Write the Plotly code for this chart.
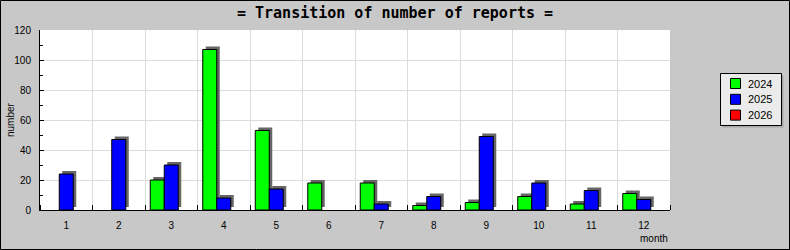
import plotly.graph_objects as go

months = [1, 2, 3, 4, 5, 6, 7, 8, 9, 10, 11, 12]
month_labels = ["1", "2", "3", "4", "5", "6", "7", "8", "9", "10", "11", "12"]
series_names = ["2024", "2025", "2026"]
v2024 = [0, 0, 20, 107, 53, 18, 18, 3, 5, 9, 4, 11]
v2025 = [24, 47, 30, 8, 14, 0, 4, 9, 49, 18, 13, 7]
v2026 = [0, 0, 0, 0, 0, 0, 0, 0, 0, 0, 0, 0]
series_values = [v2024, v2025, v2026]
series_colors = ["#00ff00", "#0000ff", "#ff0000"]

W, H = 790, 250
ML, MR, MT, MB = 40, 120, 30, 40
PW = W - ML - MR
PH = H - MT - MB
YMAX = 120
px_x = PW / 12.0          # pixels per category unit
px_y = PH / YMAX          # pixels per value unit
bar_w = 14 / px_x
shadow_dx = 3 / px_x
shadow_dy = 3 / px_y

FONT = "Liberation Sans"

def px2paper_x(p):
    return (p - ML) / PW

def px2paper_y(p):
    return (H - MB - p) / PH

fig = go.Figure()
for i, (name, vals, col) in enumerate(zip(series_names, series_values, series_colors)):
    yv = [v if v else None for v in vals]
    off = -1.5 * bar_w + i * bar_w
    fig.add_trace(go.Bar(
        x=months, y=yv, base=shadow_dy, offset=off + shadow_dx, width=bar_w,
        marker=dict(color="#666666", line=dict(width=0)),
        showlegend=False, hoverinfo="skip"))
    fig.add_trace(go.Bar(
        x=months, y=yv, name=name, offset=off, width=bar_w, showlegend=False,
        marker=dict(color=col, line=dict(color="black", width=1))))

shapes = []
annotations = []
# outer frame
shapes.append(dict(type="rect", xref="paper", yref="paper",
                   x0=px2paper_x(0.5), x1=px2paper_x(W - 0.5),
                   y0=px2paper_y(H - 0.5), y1=px2paper_y(0.5),
                   line=dict(color="black", width=1), layer="below"))
# legend box with shadow
LX0, LX1, LY0, LY1 = 720.5, 781.5, 73.5, 125.5
shapes.append(dict(type="rect", xref="paper", yref="paper",
                   x0=px2paper_x(LX0 + 2), x1=px2paper_x(LX1 + 2),
                   y0=px2paper_y(LY1 + 2), y1=px2paper_y(LY0 + 2),
                   line=dict(width=0), fillcolor="#a8a8a8"))
shapes.append(dict(type="rect", xref="paper", yref="paper",
                   x0=px2paper_x(LX0), x1=px2paper_x(LX1),
                   y0=px2paper_y(LY1), y1=px2paper_y(LY0),
                   line=dict(color="black", width=1), fillcolor="#ebebeb"))
for i, (name, col) in enumerate(zip(series_names, series_colors)):
    cy = 83.5 + i * 15.8
    shapes.append(dict(type="rect", xref="paper", yref="paper",
                       x0=px2paper_x(730.5), x1=px2paper_x(740.5),
                       y0=px2paper_y(cy + 5), y1=px2paper_y(cy - 5),
                       line=dict(color="black", width=1), fillcolor=col))
    annotations.append(dict(text=name, xref="paper", yref="paper",
                            x=px2paper_x(746), y=px2paper_y(cy),
                            xanchor="left", yanchor="middle", showarrow=False,
                            font=dict(family=FONT, size=11, color="black")))

annotations += [
    dict(text="number", textangle=-90, xref="paper", yref="paper",
         x=px2paper_x(10), y=0.5, xanchor="center", yanchor="middle",
         showarrow=False, font=dict(family=FONT, size=10, color="black")),
    dict(text="month", xref="paper", yref="paper",
         x=1.0, y=px2paper_y(238.5), xanchor="right", yanchor="middle",
         showarrow=False, font=dict(family=FONT, size=10, color="black")),
]

fig.update_layout(
    width=W, height=H,
    margin=dict(l=ML, r=MR, t=MT, b=MB, pad=0, autoexpand=False),
    paper_bgcolor="#c8c8c8", plot_bgcolor="white",
    barmode="overlay",
    title=dict(text="<b>= Transition of number of reports =</b>",
               x=0.5, xref="container", xanchor="center",
               y=1 - 12.5 / H, yref="container", yanchor="middle",
               font=dict(family="DejaVu Sans Mono", size=15, color="black")),
    font=dict(family=FONT, size=10, color="black"),
    showlegend=False,
    xaxis=dict(range=[0.5, 12.5], tickmode="array", tickvals=months, ticktext=month_labels,
               ticks="", showgrid=False, zeroline=False, automargin=False,
               showline=True, linecolor="black", linewidth=1, ticklabelstandoff=6,
               tickfont=dict(family=FONT, size=10, color="black"),
               minor=dict(tick0=0.5, dtick=1, ticks="inside", ticklen=5, tickcolor="black",
                          showgrid=True, gridcolor="#dcdcdc", gridwidth=1),
               fixedrange=True),
    yaxis=dict(range=[0, YMAX], dtick=20, tick0=0, ticks="inside", ticklen=4, tickcolor="black",
               showgrid=True, gridcolor="#dcdcdc", gridwidth=1, zeroline=False, automargin=False,
               showline=True, linecolor="black", linewidth=1, ticklabelstandoff=6,
               tickfont=dict(family=FONT, size=10, color="black"),
               minor=dict(dtick=10, ticks="inside", ticklen=3, tickcolor="black", showgrid=False),
               fixedrange=True),
    shapes=shapes,
    annotations=annotations,
)

fig.write_html("out.html")
